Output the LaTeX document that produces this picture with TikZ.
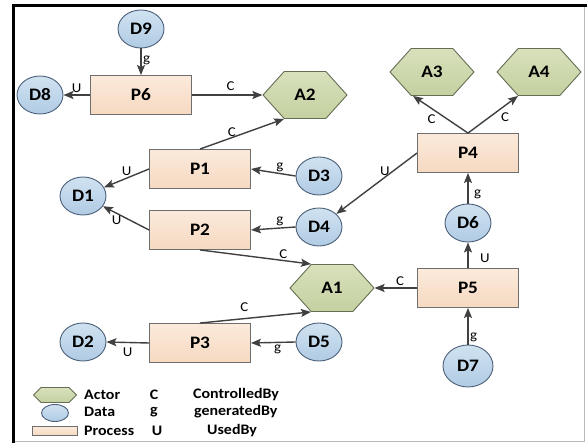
\documentclass[tikz,border=0pt]{standalone}
\usepackage{fontspec}
\setmainfont[FakeStretch=1.1]{Carlito}
\usetikzlibrary{shapes.geometric,shapes.symbols,arrows.meta}

\definecolor{dtop}{RGB}{208,226,241}
\definecolor{dbot}{RGB}{176,203,228}
\definecolor{dline}{RGB}{75,95,120}
\definecolor{ptop}{RGB}{251,234,219}
\definecolor{pbot}{RGB}{246,217,193}
\definecolor{pline}{RGB}{110,110,110}
\definecolor{atop}{RGB}{216,225,188}
\definecolor{abot}{RGB}{196,208,160}
\definecolor{aline}{RGB}{100,110,85}
\definecolor{eline}{RGB}{64,64,64}
\tikzset{
  prov/.style={x=1pt,y=-1pt},
  base/.style={draw,line width=0.9pt,inner sep=0pt,font=\fontsize{17.5}{17.5}\selectfont\bfseries},
  data/.style={base,ellipse,draw=dline,top color=dtop,bottom color=dbot,minimum width=46pt,minimum height=38pt},
  process/.style={base,rectangle,draw=pline,top color=ptop,bottom color=pbot,minimum width=101pt,minimum height=39pt},
  actor/.style={base,signal,signal to=west and east,signal pointer angle=96,draw=aline,top color=atop,bottom color=abot,minimum width=84pt,minimum height=47pt},
  rel/.style={draw=eline,line width=1.4pt,-{Stealth[length=10pt,width=8pt,inset=2pt]}},
  lbl/.style={font=\fontsize{13.5}{13.5}\selectfont,inner sep=1.5pt},
  key/.style={font=\fontsize{14.5}{14.5}\selectfont\bfseries,inner sep=0pt}
}

\begin{document}
\begin{tikzpicture}[prov]
    \useasboundingbox (0,0) rectangle (587,443);
    \draw[gray!55,line width=0.8pt] (13.5,441) -- (584,441) -- (584,6); % thin frame
    \draw[line width=3pt] (13.5,443) -- (13.5,6) -- (587,6); % thick frame
    \foreach \n/\x/\y in {D9/141/29, D8/40/95, D1/83/196, D3/319/176, D4/319/227, D6/468/223, D5/319/342, D2/83/342}
      \node[data] (\n) at (\x,\y) {\n}; % data
    \node[data,minimum width=50pt,minimum height=42pt] (D7) at (468,366) {D7};
    \foreach \n/\x/\y in {P6/141/95, P1/200/169, P2/200/230, P4/468/153, P5/468/288, P3/200/343}
      \node[process] (\n) at (\x,\y) {\n}; % processes
    \foreach \n/\x/\y in {A2/305/95, A3/432/72, A4/539/72, A1/332/288}
      \node[actor] (\n) at (\x,\y) {\n}; % actors
    \draw[rel] (D9) -- (P6) node[lbl,right,pos=0.45] {g};
    \draw[rel] (P6.west) -- (D8.east) node[lbl,above,pos=0.5] {U};
    \draw[rel] (P6.east) -- (A2.west) node[lbl,above,pos=0.55,yshift=2pt] {C};
    \draw[rel] (P1.north) -- ([xshift=-21pt]A2.south) node[lbl,above,pos=0.38,inner sep=0.5pt] {C};
    \draw[rel] (P1.west) -- (D1) node[lbl,above,pos=0.5] {U};
    \draw[rel] (D3.west) -- (P1.east) node[lbl,above,pos=0.35] {g};
    \draw[rel] (P2.west) -- (D1) node[lbl,below,pos=0.7] {U};
    \draw[rel] (D4.west) -- (P2.east) node[lbl,above,pos=0.35] {g};
    \draw[rel] (P4.west) -- (D4) node[lbl,above,pos=0.4] {U};
    \draw[rel] (P4.north) -- ([xshift=-19pt]A3.south) node[lbl,below left,pos=0.55] {C};
    \draw[rel] (P4.north) -- ([xshift=-21pt]A4.south) node[lbl,below right,pos=0.62] {C};
    \draw[rel] (D6) -- (P4.south) node[lbl,right,pos=0.3,xshift=4pt] {g};
    \draw[rel] (P5.north) -- (D6) node[lbl,right,pos=0.4,xshift=10pt] {U};
    \draw[rel] (P5.west) -- (A1.east) node[lbl,above,pos=0.4] {C};
    \draw[rel] (D7) -- (P5.south) node[lbl,right,pos=0.2] {g};
    \draw[rel] (P2.south) -- ([xshift=-21pt]A1.north) node[lbl,above,pos=0.75] {C};
    \draw[rel] (P3.north) -- ([xshift=-21pt]A1.south) node[lbl,above,pos=0.4,yshift=5pt] {C};
    \draw[rel] (P3.west) -- (D2.east) node[lbl,below,pos=0.5,yshift=-3pt] {U};
    \draw[rel] (D5.west) -- (P3.east) node[lbl,below,pos=0.4] {g};
    \node[actor,minimum width=43pt,minimum height=15pt,signal pointer angle=90] (kA) at (55,395) {}; % legend
    \node[data,minimum width=27pt,minimum height=17pt] (kD) at (55,413) {};
    \node[process,minimum width=45pt,minimum height=9pt] (kP) at (55,431) {};
    \foreach \y/\a/\s/\b/\xs/\xb in {395/Actor/C/ControlledBy/154/193, 412/Data/g/generatedBy/154/194, 431/Process/U/UsedBy/157/207}{
      \node[key,anchor=west] (n\a) at (84,\y) {\a};
      \node[key] (s\a) at (\xs,\y) {\s};
      \node[key,anchor=west] (m\a) at (\xb,\y) {\b};
    }
\end{tikzpicture}
\end{document}
